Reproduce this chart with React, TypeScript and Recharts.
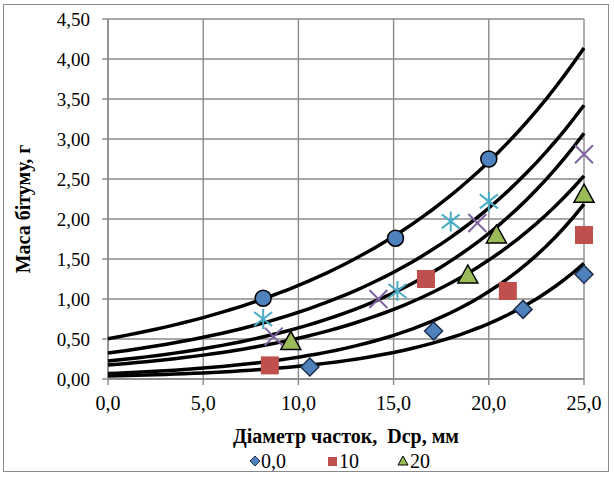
import { ScatterChart, Scatter, XAxis, YAxis, CartesianGrid } from "recharts";

// measured points per series (diameter, mm -> bitumen mass, g)
const s00x = [10.6, 17.1, 21.8, 25.0];
const s00y = [0.15, 0.6, 0.87, 1.31];
const s10x = [8.5, 16.7, 21.0, 25.0];
const s10y = [0.17, 1.25, 1.1, 1.8];
const s20x = [9.6, 18.9, 20.4, 25.0];
const s20y = [0.47, 1.3, 1.8, 2.31];
const s30x = [8.7, 14.2, 19.4, 25.0];
const s30y = [0.53, 1.0, 1.95, 2.81];
const s40x = [8.15, 15.2, 18.0, 20.0];
const s40y = [0.75, 1.1, 1.97, 2.22];
const s50x = [8.15, 15.1, 20.0];
const s50y = [1.01, 1.76, 2.75];

const xTicks = [0, 5, 10, 15, 20, 25];
const yTicks = [0, 0.5, 1, 1.5, 2, 2.5, 3, 3.5, 4, 4.5];

const GRID = "#8a8a8a";
const FONT = "'Liberation Serif', 'Times New Roman', serif";

const pts = (xs: number[], ys: number[]) => xs.map((x, i) => ({ x, y: ys[i] }));

// least-squares exponential trend y = a*e^(bx), like a spreadsheet trendline
function expTrend(xs: number[], ys: number[]) {
  const n = xs.length;
  const ly = ys.map((v) => Math.log(v));
  const mx = xs.reduce((s, v) => s + v, 0) / n;
  const my = ly.reduce((s, v) => s + v, 0) / n;
  let sxy = 0;
  let sxx = 0;
  xs.forEach((x, i) => {
    sxy += (x - mx) * (ly[i] - my);
    sxx += (x - mx) * (x - mx);
  });
  const b = sxy / sxx;
  const a = Math.exp(my - b * mx);
  const out: { x: number; y: number }[] = [];
  for (let i = 0; i <= 50; i++) {
    const x = i * 0.5;
    out.push({ x, y: a * Math.exp(b * x) });
  }
  return out;
}

const Diamond = ({ cx, cy }: any) => (
  <path
    d={`M${cx},${cy - 9}L${cx + 9},${cy}L${cx},${cy + 9}L${cx - 9},${cy}Z`}
    fill="#4f81bd"
    stroke="#1f2f4a"
    strokeWidth={1.5}
  />
);
const Square = ({ cx, cy }: any) => (
  <rect x={cx - 9} y={cy - 9} width={18} height={18} fill="#c0504d" />
);
const Triangle = ({ cx, cy }: any) => (
  <path
    d={`M${cx},${cy - 10}L${cx + 10},${cy + 8}L${cx - 10},${cy + 8}Z`}
    fill="#9bbb59"
    stroke="#000"
    strokeWidth={1.5}
  />
);
const Cross = ({ cx, cy }: any) => (
  <path
    d={`M${cx - 9},${cy - 9}L${cx + 9},${cy + 9}M${cx - 9},${cy + 9}L${cx + 9},${cy - 9}`}
    stroke="#8064a2"
    strokeWidth={2}
    fill="none"
  />
);
const Star = ({ cx, cy }: any) => (
  <path
    d={`M${cx - 9},${cy - 7}L${cx + 9},${cy + 7}M${cx - 9},${cy + 7}L${cx + 9},${cy - 7}M${cx},${cy - 10}L${cx},${cy + 10}`}
    stroke="#4bacc6"
    strokeWidth={2}
    fill="none"
  />
);
const Circle = ({ cx, cy }: any) => (
  <circle cx={cx} cy={cy} r={8} fill="#4f81bd" stroke="#000" strokeWidth={1.5} />
);
const NoDot = () => <g />;

const series = [
  { name: "0,0", xs: s00x, ys: s00y, shape: Diamond },
  { name: "10", xs: s10x, ys: s10y, shape: Square },
  { name: "20", xs: s20x, ys: s20y, shape: Triangle },
  { name: "30", xs: s30x, ys: s30y, shape: Cross },
  { name: "40", xs: s40x, ys: s40y, shape: Star },
  { name: "50", xs: s50x, ys: s50y, shape: Circle },
];

export default function App() {
  return (
    <div style={{ position: "fixed", left: 0, top: 0, width: 614, height: 477, background: "#fff", fontFamily: FONT }}>
      <div
        style={{
          position: "absolute",
          left: 3,
          top: 4,
          width: 604,
          height: 466,
          border: `1.5px solid ${GRID}`,
          overflow: "hidden",
        }}
      >
        <div style={{ position: "absolute", left: -3, top: -4 }}>
          <ScatterChart width={614} height={477} margin={{ top: 18, right: 31, bottom: 69, left: 57 }}>
            <CartesianGrid stroke={GRID} strokeWidth={1.4} />
            <XAxis
              type="number"
              dataKey="x"
              domain={[0, 25]}
              ticks={xTicks}
              interval={0}
              height={30}
              tickSize={6}
              tickMargin={11}
              axisLine={{ stroke: GRID, strokeWidth: 1.4 }}
              tickLine={{ stroke: GRID, strokeWidth: 1.4 }}
              tick={{ fill: "#000", fontSize: 20, fontFamily: FONT }}
              tickFormatter={(v: number) => v.toFixed(1).replace(".", ",")}
            />
            <YAxis
              type="number"
              dataKey="y"
              domain={[0, 4.5]}
              ticks={yTicks}
              interval={0}
              width={50}
              tickSize={6}
              tickMargin={12}
              axisLine={{ stroke: GRID, strokeWidth: 1.4 }}
              tickLine={{ stroke: GRID, strokeWidth: 1.4 }}
              tick={{ fill: "#000", fontSize: 19, fontFamily: FONT }}
              tickFormatter={(v: number) => v.toFixed(2).replace(".", ",")}
            />
            {series.map((s) => (
              <Scatter
                key={"t" + s.name}
                data={expTrend(s.xs, s.ys)}
                line={{ stroke: "#000", strokeWidth: 3.5 }}
                lineType="joint"
                shape={NoDot}
                isAnimationActive={false}
              />
            ))}
            {series.map((s) => (
              <Scatter
                key={s.name}
                name={s.name}
                data={pts(s.xs, s.ys)}
                shape={s.shape}
                isAnimationActive={false}
              />
            ))}
          </ScatterChart>
        </div>

        {/* axis titles */}
        <div
          style={{
            position: "absolute",
            left: 345 - 3,
            top: 435 - 4,
            transform: "translate(-50%, -50%)",
            whiteSpace: "pre",
            fontWeight: "bold",
            fontSize: 20,
          }}
        >
          {"Діаметр часток,  Dcp, мм"}
        </div>
        <div
          style={{
            position: "absolute",
            left: 22 - 3,
            top: 208 - 4,
            transform: "translate(-50%, -50%) rotate(-90deg)",
            whiteSpace: "pre",
            fontWeight: "bold",
            fontSize: 20,
          }}
        >
          Маса бітуму, г
        </div>

        {/* legend, first row */}
        <div style={{ position: "absolute", left: 0, top: 449 - 4, width: 604, height: 22, fontSize: 20, lineHeight: "22px" }}>
          <svg width={604} height={22} style={{ position: "absolute", left: 0, top: 0 }}>
            <path d="M251,6L256,11L251,16L246,11Z" fill="#4f81bd" stroke="#1f2f4a" strokeWidth={1} />
            <rect x={324} y={7} width={9} height={9} fill="#c0504d" />
            <path d="M399,6L404,15L394,15Z" fill="#9bbb59" stroke="#000" strokeWidth={1} />
          </svg>
          <span style={{ position: "absolute", left: 257, top: 0 }}>0,0</span>
          <span style={{ position: "absolute", left: 335, top: 0 }}>10</span>
          <span style={{ position: "absolute", left: 406, top: 0 }}>20</span>
        </div>
      </div>
    </div>
  );
}
